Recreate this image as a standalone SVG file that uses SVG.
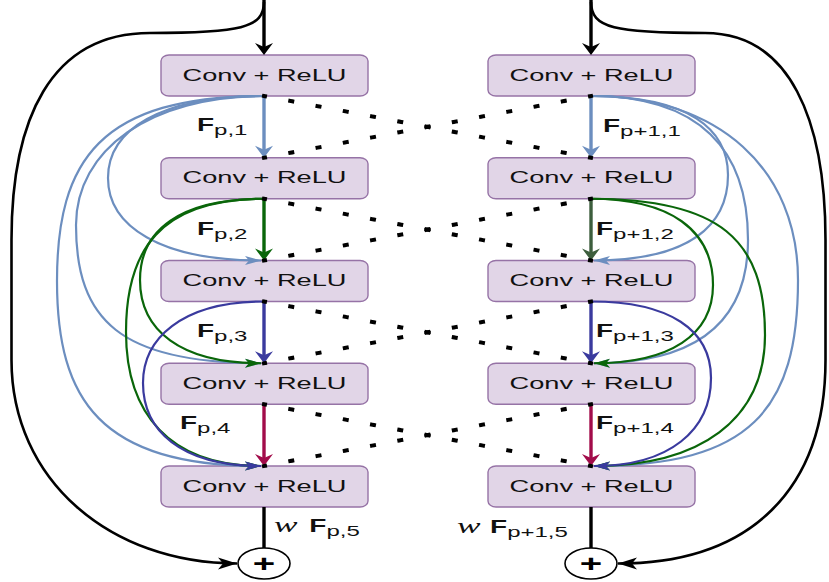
<svg xmlns="http://www.w3.org/2000/svg" width="829" height="582" viewBox="0 0 829 582">
<style>
.box{fill:#e1d5e7;stroke:#9673a6;stroke-width:1.4}
.bt{font-family:"Liberation Sans",Arial,sans-serif;font-size:17px;fill:#111;text-anchor:middle}
.lab{font-family:"Liberation Sans",Arial,sans-serif;font-size:16px;fill:#111}
.F{font-weight:bold;font-size:17.5px}
.sub{font-size:15px}
.w{font-family:"Liberation Serif","Times New Roman",serif;font-style:italic;font-size:22px}
.c{fill:none;stroke-width:2.2}
.s{fill:none;stroke-width:3.4}
.k{fill:none;stroke:#000;stroke-width:2.6}
.dot{stroke:#000;stroke-width:4;stroke-dasharray:2 25.73;stroke-dashoffset:1;stroke-linecap:square}
.blue{stroke:#6c8ebf}
.green{stroke:#0a660a}
.navy{stroke:#3a3a9e}
.red{stroke:#a20c4a}
.olive{stroke:#3d5e3d}
.sum{fill:#fff;stroke:#000;stroke-width:1.6}
.plus{font-family:"Liberation Sans",Arial,sans-serif;font-weight:bold;font-size:24px;text-anchor:middle;fill:#000}
</style>
<defs>
<marker id="vK" markerUnits="userSpaceOnUse" orient="auto" overflow="visible" markerWidth="1" markerHeight="1"><path d="M6,0 L-6,-9 L-2,0 L-6,9 Z" fill="#000"/></marker>
<marker id="vB" markerUnits="userSpaceOnUse" orient="auto" overflow="visible" markerWidth="1" markerHeight="1"><path d="M6,0 L-6,-9 L-2,0 L-6,9 Z" fill="#6c8ebf"/></marker>
<marker id="vG" markerUnits="userSpaceOnUse" orient="auto" overflow="visible" markerWidth="1" markerHeight="1"><path d="M6,0 L-6,-9 L-2,0 L-6,9 Z" fill="#0a660a"/></marker>
<marker id="vN" markerUnits="userSpaceOnUse" orient="auto" overflow="visible" markerWidth="1" markerHeight="1"><path d="M6,0 L-6,-9 L-2,0 L-6,9 Z" fill="#3a3a9e"/></marker>
<marker id="vR" markerUnits="userSpaceOnUse" orient="auto" overflow="visible" markerWidth="1" markerHeight="1"><path d="M6,0 L-6,-9 L-2,0 L-6,9 Z" fill="#a20c4a"/></marker>
<marker id="vO" markerUnits="userSpaceOnUse" orient="auto" overflow="visible" markerWidth="1" markerHeight="1"><path d="M6,0 L-6,-9 L-2,0 L-6,9 Z" fill="#3d5e3d"/></marker>
<marker id="hB" markerUnits="userSpaceOnUse" orient="auto" overflow="visible" markerWidth="1" markerHeight="1"><path d="M0,0 L-16,-4.5 L-12,0 L-16,4.5 Z" fill="#6c8ebf"/></marker>
<marker id="hG" markerUnits="userSpaceOnUse" orient="auto" overflow="visible" markerWidth="1" markerHeight="1"><path d="M0,0 L-16,-4.5 L-12,0 L-16,4.5 Z" fill="#0a660a"/></marker>
<marker id="hN" markerUnits="userSpaceOnUse" orient="auto" overflow="visible" markerWidth="1" markerHeight="1"><path d="M0,0 L-16,-4.5 L-12,0 L-16,4.5 Z" fill="#3a3a9e"/></marker>
<marker id="hK" markerUnits="userSpaceOnUse" orient="auto" overflow="visible" markerWidth="1" markerHeight="1"><path d="M0,0 L-19,-6 L-14,0 L-19,6 Z" fill="#000"/></marker>
</defs>

<g id="node-L1"><rect class="box" x="161" y="55" width="207" height="41" rx="8" ry="6"/><text class="bt" transform="translate(264.5,80.5) scale(1.6,1)">Conv + ReLU</text></g>
<g id="node-L2"><rect class="box" x="161" y="157.75" width="207" height="41" rx="8" ry="6"/><text class="bt" transform="translate(264.5,183.25) scale(1.6,1)">Conv + ReLU</text></g>
<g id="node-L3"><rect class="box" x="161" y="260.5" width="207" height="41" rx="8" ry="6"/><text class="bt" transform="translate(264.5,286) scale(1.6,1)">Conv + ReLU</text></g>
<g id="node-L4"><rect class="box" x="161" y="363.25" width="207" height="41" rx="8" ry="6"/><text class="bt" transform="translate(264.5,388.75) scale(1.6,1)">Conv + ReLU</text></g>
<g id="node-L5"><rect class="box" x="161" y="466" width="207" height="41" rx="8" ry="6"/><text class="bt" transform="translate(264.5,491.5) scale(1.6,1)">Conv + ReLU</text></g>
<g id="node-R1"><rect class="box" x="488" y="55" width="207" height="41" rx="8" ry="6"/><text class="bt" transform="translate(591.5,80.5) scale(1.6,1)">Conv + ReLU</text></g>
<g id="node-R2"><rect class="box" x="488" y="157.75" width="207" height="41" rx="8" ry="6"/><text class="bt" transform="translate(591.5,183.25) scale(1.6,1)">Conv + ReLU</text></g>
<g id="node-R3"><rect class="box" x="488" y="260.5" width="207" height="41" rx="8" ry="6"/><text class="bt" transform="translate(591.5,286) scale(1.6,1)">Conv + ReLU</text></g>
<g id="node-R4"><rect class="box" x="488" y="363.25" width="207" height="41" rx="8" ry="6"/><text class="bt" transform="translate(591.5,388.75) scale(1.6,1)">Conv + ReLU</text></g>
<g id="node-R5"><rect class="box" x="488" y="466" width="207" height="41" rx="8" ry="6"/><text class="bt" transform="translate(591.5,491.5) scale(1.6,1)">Conv + ReLU</text></g>

<g id="connectors">
<!-- input / skip -->
<path class="k" d="M264,2 C264,28 240,33 150,33 C50,33 11.5,120 11.5,240 L11.5,360 C11.5,480 110,563.5 237,563.5" marker-end="url(#hK)"/>
<path class="k" d="M591,2 C591,28 615,33 705,33 C790,33 825.5,120 825.5,240 L825.5,360 C825.5,490 750,563.5 618,563.5" marker-end="url(#hK)"/>
<path class="s" stroke="#000" d="M264,0 V49" marker-end="url(#vK)"/>
<path class="s" stroke="#000" d="M591,0 V49" marker-end="url(#vK)"/>
<path class="s" stroke="#000" d="M264,507 V548"/>
<path class="s" stroke="#000" d="M591,507 V548"/>

<!-- left dense curves -->
<path class="c blue" d="M264,96 C160,96 108,130 108,178 C108,226 160,260.5 261,260.5" marker-end="url(#hB)"/>
<path class="c blue" d="M264,96 C150,96 76,150 76,225 C76,320 120,363.25 261,363.25" marker-end="url(#hB)"/>
<path class="c blue" d="M264,96 C100,96 57,160 57,281 C57,400 100,466 261,466" marker-end="url(#hB)"/>
<path class="c green" d="M264,198.75 C180,198.75 140,230 140,280 C140,330 180,363.25 261,363.25" marker-end="url(#hG)"/>
<path class="c green" d="M264,198.75 C160,198.75 126,250 126,332 C126,414 170,466 261,466" marker-end="url(#hG)"/>
<path class="c navy" d="M264,301.5 C180,301.5 143,340 143,383 C143,430 180,466 261,466" marker-end="url(#hN)"/>

<!-- right dense curves -->
<path class="c blue" d="M591,96 C690,96 728,130 728,175 C728,225 690,260.5 594,260.5" marker-end="url(#hB)"/>
<path class="c blue" d="M591,96 C700,96 748,150 748,240 C748,320 700,363.25 594,363.25" marker-end="url(#hB)"/>
<path class="c blue" d="M591,96 C720,96 798,170 798,280 C798,410 750,466 594,466" marker-end="url(#hB)"/>
<path class="c green" d="M591,198.75 C670,198.75 713,230 713,285 C713,335 670,363.25 594,363.25" marker-end="url(#hG)"/>
<path class="c green" d="M591,198.75 C720,198.75 765,240 765,335 C765,420 700,466 594,466" marker-end="url(#hG)"/>
<path class="c navy" d="M591,301.5 C670,301.5 711,330 711,378 C711,430 670,466 594,466" marker-end="url(#hN)"/>

<!-- straight arrows -->
<path class="s blue" d="M264,96 V151.75" marker-end="url(#vB)"/>
<path class="s green" d="M264,198.75 V254.5" marker-end="url(#vG)"/>
<path class="s navy" d="M264,301.5 V357.25" marker-end="url(#vN)"/>
<path class="s red" d="M264,404.25 V460" marker-end="url(#vR)"/>
<path class="s blue" d="M591,96 V151.75" marker-end="url(#vB)"/>
<path class="s olive" d="M591,198.75 V254.5" marker-end="url(#vO)"/>
<path class="s navy" d="M591,301.5 V357.25" marker-end="url(#vN)"/>
<path class="s red" d="M591,404.25 V460" marker-end="url(#vR)"/>

<!-- dotted cross links -->
<line class="dot" x1="264" y1="96" x2="591" y2="157.75"/>
<line class="dot" x1="591" y1="96" x2="264" y2="157.75"/>
<line class="dot" x1="264" y1="198.75" x2="591" y2="260.5"/>
<line class="dot" x1="591" y1="198.75" x2="264" y2="260.5"/>
<line class="dot" x1="264" y1="301.5" x2="591" y2="363.25"/>
<line class="dot" x1="591" y1="301.5" x2="264" y2="363.25"/>
<line class="dot" x1="264" y1="404.25" x2="591" y2="466"/>
<line class="dot" x1="591" y1="404.25" x2="264" y2="466"/>

<!-- edge labels -->
<text class="lab" transform="translate(197,131) scale(1.6,1)"><tspan class="F">F</tspan><tspan class="sub" dy="4">p,1</tspan></text>
<text class="lab" transform="translate(197,235) scale(1.6,1)"><tspan class="F">F</tspan><tspan class="sub" dy="4">p,2</tspan></text>
<text class="lab" transform="translate(197,337) scale(1.6,1)"><tspan class="F">F</tspan><tspan class="sub" dy="4">p,3</tspan></text>
<text class="lab" transform="translate(180,429) scale(1.6,1)"><tspan class="F">F</tspan><tspan class="sub" dy="4">p,4</tspan></text>
<text class="lab" transform="translate(603,132) scale(1.6,1)"><tspan class="F">F</tspan><tspan class="sub" dy="4">p+1,1</tspan></text>
<text class="lab" transform="translate(596,235) scale(1.6,1)"><tspan class="F">F</tspan><tspan class="sub" dy="4">p+1,2</tspan></text>
<text class="lab" transform="translate(596,337) scale(1.6,1)"><tspan class="F">F</tspan><tspan class="sub" dy="4">p+1,3</tspan></text>
<text class="lab" transform="translate(596,429) scale(1.6,1)"><tspan class="F">F</tspan><tspan class="sub" dy="4">p+1,4</tspan></text>
<text class="lab" transform="translate(274,532) scale(1.6,1)"><tspan class="w">w</tspan><tspan class="F" dx="7.4">F</tspan><tspan class="sub" dy="4">p,5</tspan></text>
<text class="lab" transform="translate(457,533) scale(1.6,1)"><tspan class="w">w</tspan><tspan class="F" dx="6">F</tspan><tspan class="sub" dy="4">p+1,5</tspan></text>
</g>

<g id="sum-L"><ellipse class="sum" cx="264" cy="563.5" rx="26" ry="15.5"/><text class="plus" transform="translate(264,572) scale(1.6,1)">+</text></g>
<g id="sum-R"><ellipse class="sum" cx="591" cy="563.5" rx="26" ry="15.5"/><text class="plus" transform="translate(591,572) scale(1.6,1)">+</text></g>
</svg>
